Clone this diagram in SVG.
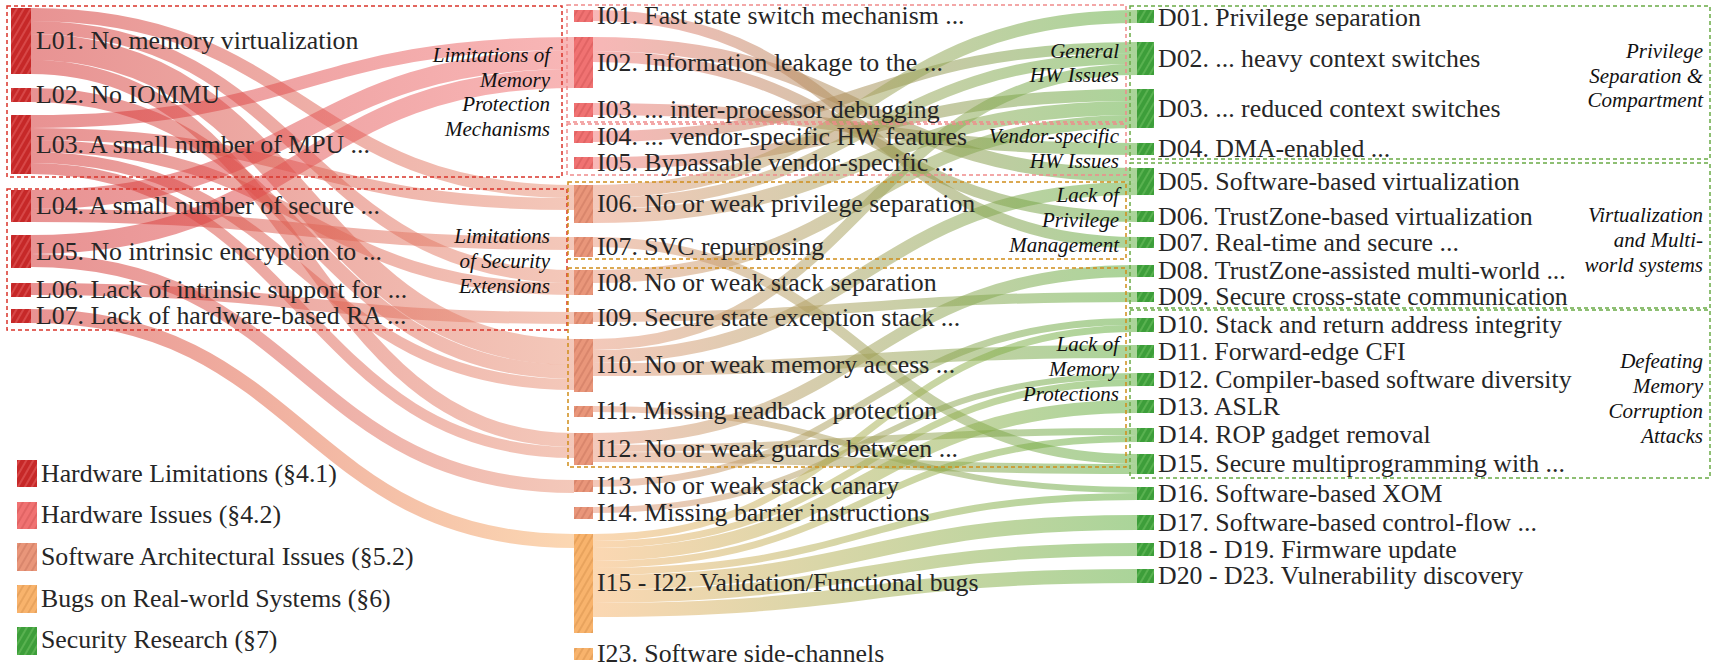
<svg xmlns="http://www.w3.org/2000/svg" width="1713" height="665" viewBox="0 0 1713 665">
  <style>
    .lk { fill: none; stroke-opacity: 0.52; }
    .lbl { font-family: "Liberation Serif", "Times New Roman", serif; font-size: 25.8px; fill: #262626; }
    .grp { font-family: "Liberation Serif", "Times New Roman", serif; font-style: italic; font-size: 21px; fill: #111; text-anchor: end; }
    .box { fill: none; stroke-width: 1.5; stroke-dasharray: 4 3; }
  </style>
  <defs>
    <!-- hatched fills for the node bars -->
    <pattern id="hL" patternUnits="userSpaceOnUse" width="6" height="6" patternTransform="rotate(30)">
      <rect width="6" height="6" fill="#c62828"/><line x1="1" y1="0" x2="1" y2="6" stroke="#e35b5b" stroke-width="1.2"/>
    </pattern>
    <pattern id="hH" patternUnits="userSpaceOnUse" width="6" height="6" patternTransform="rotate(30)">
      <rect width="6" height="6" fill="#f07272"/><line x1="1" y1="0" x2="1" y2="6" stroke="#d85a5a" stroke-width="1.2"/>
    </pattern>
    <pattern id="hS" patternUnits="userSpaceOnUse" width="6" height="6" patternTransform="rotate(30)">
      <rect width="6" height="6" fill="#e9967a"/><line x1="1" y1="0" x2="1" y2="6" stroke="#cf7c62" stroke-width="1.2"/>
    </pattern>
    <pattern id="hB" patternUnits="userSpaceOnUse" width="6" height="6" patternTransform="rotate(30)">
      <rect width="6" height="6" fill="#f8b36c"/><line x1="1" y1="0" x2="1" y2="6" stroke="#de9852" stroke-width="1.2"/>
    </pattern>
    <pattern id="hD" patternUnits="userSpaceOnUse" width="6" height="6" patternTransform="rotate(30)">
      <rect width="6" height="6" fill="#3d9e3a"/><line x1="1" y1="0" x2="1" y2="6" stroke="#6cbf5e" stroke-width="1.2"/>
    </pattern>
    <!-- link colour ramps: limitation -> issue, issue -> defence -->
    <linearGradient id="gLH" gradientUnits="userSpaceOnUse" x1="31" y1="0" x2="574" y2="0">
      <stop offset="0" stop-color="#d32f2f"/><stop offset="1" stop-color="#f27474"/>
    </linearGradient>
    <linearGradient id="gLS" gradientUnits="userSpaceOnUse" x1="31" y1="0" x2="574" y2="0">
      <stop offset="0" stop-color="#d32f2f"/><stop offset="1" stop-color="#e9967a"/>
    </linearGradient>
    <linearGradient id="gLB" gradientUnits="userSpaceOnUse" x1="31" y1="0" x2="574" y2="0">
      <stop offset="0" stop-color="#d32f2f"/><stop offset="1" stop-color="#f8b36c"/>
    </linearGradient>
    <linearGradient id="gIH" gradientUnits="userSpaceOnUse" x1="593" y1="0" x2="1137" y2="0">
      <stop offset="0" stop-color="#f27474"/><stop offset="1" stop-color="#5cad3c"/>
    </linearGradient>
    <linearGradient id="gIS" gradientUnits="userSpaceOnUse" x1="593" y1="0" x2="1137" y2="0">
      <stop offset="0" stop-color="#e9967a"/><stop offset="1" stop-color="#5cad3c"/>
    </linearGradient>
    <linearGradient id="gIB" gradientUnits="userSpaceOnUse" x1="593" y1="0" x2="1137" y2="0">
      <stop offset="0" stop-color="#f8b36c"/><stop offset="1" stop-color="#5cad3c"/>
    </linearGradient>
  </defs>

  <!-- connectors -->
  <g id="links">
    <g id="links-limitations">
      <path class="lk" stroke="url(#gLS)" stroke-width="13" d="M31,14.5 C302.5,14.5 302.5,191.5 574,191.5"/>
      <path class="lk" stroke="url(#gLS)" stroke-width="13" d="M31,27.5 C302.5,27.5 302.5,276.5 574,276.5"/>
      <path class="lk" stroke="url(#gLS)" stroke-width="26" d="M31,47 C302.5,47 302.5,352 574,352"/>
      <path class="lk" stroke="url(#gLS)" stroke-width="14" d="M31,67 C302.5,67 302.5,440 574,440"/>
      <path class="lk" stroke="url(#gLS)" stroke-width="14" d="M31,95 C302.5,95 302.5,372 574,372"/>
      <path class="lk" stroke="url(#gLH)" stroke-width="13" d="M31,121.5 C302.5,121.5 302.5,43.5 574,43.5"/>
      <path class="lk" stroke="url(#gLS)" stroke-width="12" d="M31,134 C302.5,134 302.5,204 574,204"/>
      <path class="lk" stroke="url(#gLS)" stroke-width="12" d="M31,146 C302.5,146 302.5,289 574,289"/>
      <path class="lk" stroke="url(#gLS)" stroke-width="11" d="M31,157.5 C302.5,157.5 302.5,384.5 574,384.5"/>
      <path class="lk" stroke="url(#gLS)" stroke-width="11" d="M31,168.5 C302.5,168.5 302.5,452.5 574,452.5"/>
      <path class="lk" stroke="url(#gLH)" stroke-width="19" d="M31,199.5 C302.5,199.5 302.5,59.5 574,59.5"/>
      <path class="lk" stroke="url(#gLS)" stroke-width="13" d="M31,215.5 C302.5,215.5 302.5,243.5 574,243.5"/>
      <path class="lk" stroke="url(#gLH)" stroke-width="19" d="M31,244.5 C302.5,244.5 302.5,78.5 574,78.5"/>
      <path class="lk" stroke="url(#gLS)" stroke-width="13" d="M31,260.5 C302.5,260.5 302.5,486.5 574,486.5"/>
      <path class="lk" stroke="url(#gLS)" stroke-width="12" d="M31,289 C302.5,289 302.5,318 574,318"/>
      <path class="lk" stroke="url(#gLB)" stroke-width="14" d="M31,316 C302.5,316 302.5,541 574,541"/>
    </g>
    <g id="links-issues">
      <path class="lk" stroke="url(#gIH)" stroke-width="11" d="M593,15.5 C865,15.5 865,242.5 1137,242.5"/>
      <path class="lk" stroke="url(#gIH)" stroke-width="14" d="M593,44 C865,44 865,175 1137,175"/>
      <path class="lk" stroke="url(#gIH)" stroke-width="11" d="M593,56.5 C865,56.5 865,216.5 1137,216.5"/>
      <path class="lk" stroke="url(#gIH)" stroke-width="12" d="M593,109 C865,109 865,149 1137,149"/>
      <path class="lk" stroke="url(#gIH)" stroke-width="11" d="M593,136.5 C865,136.5 865,47.5 1137,47.5"/>
      <path class="lk" stroke="url(#gIH)" stroke-width="12" d="M593,163 C865,163 865,95 1137,95"/>
      <path class="lk" stroke="url(#gIS)" stroke-width="13" d="M593,191.5 C865,191.5 865,16.5 1137,16.5"/>
      <path class="lk" stroke="url(#gIS)" stroke-width="11" d="M593,203.5 C865,203.5 865,58.5 1137,58.5"/>
      <path class="lk" stroke="url(#gIS)" stroke-width="14" d="M593,216 C865,216 865,108 1137,108"/>
      <path class="lk" stroke="url(#gIS)" stroke-width="10" d="M593,242 C865,242 865,459 1137,459"/>
      <path class="lk" stroke="url(#gIS)" stroke-width="13" d="M593,276.5 C865,276.5 865,121.5 1137,121.5"/>
      <path class="lk" stroke="url(#gIS)" stroke-width="10" d="M593,317 C865,317 865,297 1137,297"/>
      <path class="lk" stroke="url(#gIS)" stroke-width="11" d="M593,344.5 C865,344.5 865,69.5 1137,69.5"/>
      <path class="lk" stroke="url(#gIS)" stroke-width="13" d="M593,356.5 C865,356.5 865,188.5 1137,188.5"/>
      <path class="lk" stroke="url(#gIS)" stroke-width="13" d="M593,369.5 C865,369.5 865,351.5 1137,351.5"/>
      <path class="lk" stroke="url(#gIS)" stroke-width="6" d="M593,409 C865,409 865,490 1137,490"/>
      <path class="lk" stroke="url(#gIS)" stroke-width="12" d="M593,439 C865,439 865,271 1137,271"/>
      <path class="lk" stroke="url(#gIS)" stroke-width="7" d="M593,448.5 C865,448.5 865,431.5 1137,431.5"/>
      <path class="lk" stroke="url(#gIS)" stroke-width="10" d="M593,457 C865,457 865,469 1137,469"/>
      <path class="lk" stroke="url(#gIS)" stroke-width="7" d="M593,483.5 C865,483.5 865,321.5 1137,321.5"/>
      <path class="lk" stroke="url(#gIS)" stroke-width="6" d="M593,510 C865,510 865,376 1137,376"/>
      <path class="lk" stroke="url(#gIB)" stroke-width="7" d="M593,537.5 C865,537.5 865,328.5 1137,328.5"/>
      <path class="lk" stroke="url(#gIB)" stroke-width="7" d="M593,544.5 C865,544.5 865,382.5 1137,382.5"/>
      <path class="lk" stroke="url(#gIB)" stroke-width="13" d="M593,554.5 C865,554.5 865,406.5 1137,406.5"/>
      <path class="lk" stroke="url(#gIB)" stroke-width="7" d="M593,564.5 C865,564.5 865,438.5 1137,438.5"/>
      <path class="lk" stroke="url(#gIB)" stroke-width="7" d="M593,571.5 C865,571.5 865,496.5 1137,496.5"/>
      <path class="lk" stroke="url(#gIB)" stroke-width="15" d="M593,582.5 C865,582.5 865,522.5 1137,522.5"/>
      <path class="lk" stroke="url(#gIB)" stroke-width="13" d="M593,596.5 C865,596.5 865,549.5 1137,549.5"/>
      <path class="lk" stroke="url(#gIB)" stroke-width="14" d="M593,610 C865,610 865,576 1137,576"/>
    </g>
  </g>

  <!-- category frames -->
  <g id="groups">
    <g id="grp-mem-limits">
      <rect class="box" stroke="#d9342b" x="7" y="6" width="555" height="171"/>
      <text class="grp" x="550" y="62">Limitations of</text>
      <text class="grp" x="550" y="86.5">Memory</text>
      <text class="grp" x="550" y="111">Protection</text>
      <text class="grp" x="550" y="135.5">Mechanisms</text>
    </g>
    <g id="grp-sec-ext">
      <rect class="box" stroke="#d9342b" x="7" y="189" width="560" height="141"/>
      <text class="grp" x="550" y="243">Limitations</text>
      <text class="grp" x="550" y="268">of Security</text>
      <text class="grp" x="550" y="293">Extensions</text>
    </g>
    <g id="grp-general-hw">
      <rect class="box" stroke="#f08a8a" x="567" y="5" width="559" height="117"/>
      <text class="grp" x="1119" y="58">General</text>
      <text class="grp" x="1119" y="82">HW Issues</text>
    </g>
    <g id="grp-vendor-hw">
      <rect class="box" stroke="#f08a8a" x="567" y="124" width="559" height="51"/>
      <text class="grp" x="1119" y="143">Vendor-specific</text>
      <text class="grp" x="1119" y="168">HW Issues</text>
    </g>
    <g id="grp-privilege">
      <rect class="box" stroke="#cf8d1a" x="568" y="182" width="558" height="77"/>
      <text class="grp" x="1119" y="202">Lack of</text>
      <text class="grp" x="1119" y="227">Privilege</text>
      <text class="grp" x="1119" y="252">Management</text>
    </g>
    <g id="grp-memprot">
      <rect class="box" stroke="#cf8d1a" x="568" y="268" width="558" height="199"/>
      <text class="grp" x="1119" y="351">Lack of</text>
      <text class="grp" x="1119" y="376">Memory</text>
      <text class="grp" x="1119" y="401">Protections</text>
    </g>
    <g id="grp-compartment">
      <rect class="box" stroke="#6aaa45" x="1130" y="6" width="580" height="153"/>
      <text class="grp" x="1703" y="58">Privilege</text>
      <text class="grp" x="1703" y="82.5">Separation &amp;</text>
      <text class="grp" x="1703" y="107">Compartment</text>
    </g>
    <g id="grp-virtualization">
      <rect class="box" stroke="#6aaa45" x="1130" y="163" width="580" height="145"/>
      <text class="grp" x="1703" y="222">Virtualization</text>
      <text class="grp" x="1703" y="247">and Multi-</text>
      <text class="grp" x="1703" y="272">world systems</text>
    </g>
    <g id="grp-memcorruption">
      <rect class="box" stroke="#6aaa45" x="1130" y="310" width="580" height="168"/>
      <text class="grp" x="1703" y="368">Defeating</text>
      <text class="grp" x="1703" y="393">Memory</text>
      <text class="grp" x="1703" y="418">Corruption</text>
      <text class="grp" x="1703" y="443">Attacks</text>
    </g>
  </g>

  <!-- hardware limitations -->
  <g id="L01"><rect x="11" y="8" width="20" height="66" fill="url(#hL)"/><text class="lbl" x="36" y="49">L01. No memory virtualization</text></g>
  <g id="L02"><rect x="11" y="88" width="20" height="14" fill="url(#hL)"/><text class="lbl" x="36" y="103">L02. No IOMMU</text></g>
  <g id="L03"><rect x="11" y="115" width="20" height="59" fill="url(#hL)"/><text class="lbl" x="36" y="153">L03. A small number of MPU ...</text></g>
  <g id="L04"><rect x="11" y="190" width="20" height="32" fill="url(#hL)"/><text class="lbl" x="36" y="214">L04. A small number of secure ...</text></g>
  <g id="L05"><rect x="11" y="235" width="20" height="33" fill="url(#hL)"/><text class="lbl" x="36" y="260">L05. No intrinsic encryption to ...</text></g>
  <g id="L06"><rect x="11" y="283" width="20" height="14" fill="url(#hL)"/><text class="lbl" x="36" y="298">L06. Lack of intrinsic support for ...</text></g>
  <g id="L07"><rect x="11" y="309" width="20" height="14" fill="url(#hL)"/><text class="lbl" x="36" y="324">L07. Lack of hardware-based RA ...</text></g>

  <!-- issues -->
  <g id="I01"><rect x="574" y="10" width="19" height="12" fill="url(#hH)"/><text class="lbl" x="597" y="24">I01. Fast state switch mechanism ...</text></g>
  <g id="I02"><rect x="574" y="37" width="19" height="51" fill="url(#hH)"/><text class="lbl" x="597" y="70.5">I02. Information leakage to the ...</text></g>
  <g id="I03"><rect x="574" y="103" width="19" height="14" fill="url(#hH)"/><text class="lbl" x="597" y="118">I03. ... inter-processor debugging</text></g>
  <g id="I04"><rect x="574" y="131" width="19" height="12" fill="url(#hH)"/><text class="lbl" x="597" y="145">I04. ... vendor-specific HW features</text></g>
  <g id="I05"><rect x="574" y="157" width="19" height="12" fill="url(#hH)"/><text class="lbl" x="597" y="171">I05. Bypassable vendor-specific ...</text></g>
  <g id="I06"><rect x="574" y="185" width="19" height="38" fill="url(#hS)"/><text class="lbl" x="597" y="212">I06. No or weak privilege separation</text></g>
  <g id="I07"><rect x="574" y="237" width="19" height="20" fill="url(#hS)"/><text class="lbl" x="597" y="255">I07. SVC repurposing</text></g>
  <g id="I08"><rect x="574" y="270" width="19" height="25" fill="url(#hS)"/><text class="lbl" x="597" y="291">I08. No or weak stack separation</text></g>
  <g id="I09"><rect x="574" y="312" width="19" height="12" fill="url(#hS)"/><text class="lbl" x="597" y="326">I09. Secure state exception stack ...</text></g>
  <g id="I10"><rect x="574" y="339" width="19" height="53" fill="url(#hS)"/><text class="lbl" x="597" y="373">I10. No or weak memory access ...</text></g>
  <g id="I11"><rect x="574" y="406" width="19" height="11" fill="url(#hS)"/><text class="lbl" x="597" y="419">I11. Missing readback protection</text></g>
  <g id="I12"><rect x="574" y="433" width="19" height="32" fill="url(#hS)"/><text class="lbl" x="597" y="457">I12. No or weak guards between ...</text></g>
  <g id="I13"><rect x="574" y="480" width="19" height="12" fill="url(#hS)"/><text class="lbl" x="597" y="494">I13. No or weak stack canary</text></g>
  <g id="I14"><rect x="574" y="507" width="19" height="12" fill="url(#hS)"/><text class="lbl" x="597" y="521">I14. Missing barrier instructions</text></g>
  <g id="I15-I22"><rect x="574" y="534" width="19" height="99" fill="url(#hB)"/><text class="lbl" x="597" y="591">I15 - I22. Validation/Functional bugs</text></g>
  <g id="I23"><rect x="574" y="648" width="19" height="12" fill="url(#hB)"/><text class="lbl" x="597" y="662">I23. Software side-channels</text></g>

  <!-- defences from security research -->
  <g id="D01"><rect x="1137" y="10" width="17" height="13" fill="url(#hD)"/><text class="lbl" x="1158" y="25.5">D01. Privilege separation</text></g>
  <g id="D02"><rect x="1137" y="42" width="17" height="33" fill="url(#hD)"/><text class="lbl" x="1158" y="66.5">D02. ... heavy context switches</text></g>
  <g id="D03"><rect x="1137" y="89" width="17" height="39" fill="url(#hD)"/><text class="lbl" x="1158" y="116.5">D03. ... reduced context switches</text></g>
  <g id="D04"><rect x="1137" y="143" width="17" height="12" fill="url(#hD)"/><text class="lbl" x="1158" y="157">D04. DMA-enabled ...</text></g>
  <g id="D05"><rect x="1137" y="168" width="17" height="27" fill="url(#hD)"/><text class="lbl" x="1158" y="189.5">D05. Software-based virtualization</text></g>
  <g id="D06"><rect x="1137" y="211" width="17" height="11" fill="url(#hD)"/><text class="lbl" x="1158" y="224.5">D06. TrustZone-based virtualization</text></g>
  <g id="D07"><rect x="1137" y="237" width="17" height="11" fill="url(#hD)"/><text class="lbl" x="1158" y="250.5">D07. Real-time and secure ...</text></g>
  <g id="D08"><rect x="1137" y="265" width="17" height="12" fill="url(#hD)"/><text class="lbl" x="1158" y="279">D08. TrustZone-assisted multi-world ...</text></g>
  <g id="D09"><rect x="1137" y="292" width="17" height="10" fill="url(#hD)"/><text class="lbl" x="1158" y="305">D09. Secure cross-state communication</text></g>
  <g id="D10"><rect x="1137" y="318" width="17" height="14" fill="url(#hD)"/><text class="lbl" x="1158" y="333">D10. Stack and return address integrity</text></g>
  <g id="D11"><rect x="1137" y="345" width="17" height="13" fill="url(#hD)"/><text class="lbl" x="1158" y="359.5">D11. Forward-edge CFI</text></g>
  <g id="D12"><rect x="1137" y="373" width="17" height="13" fill="url(#hD)"/><text class="lbl" x="1158" y="387.5">D12. Compiler-based software diversity</text></g>
  <g id="D13"><rect x="1137" y="400" width="17" height="13" fill="url(#hD)"/><text class="lbl" x="1158" y="414.5">D13. ASLR</text></g>
  <g id="D14"><rect x="1137" y="428" width="17" height="14" fill="url(#hD)"/><text class="lbl" x="1158" y="443">D14. ROP gadget removal</text></g>
  <g id="D15"><rect x="1137" y="454" width="17" height="20" fill="url(#hD)"/><text class="lbl" x="1158" y="472">D15. Secure multiprogramming with ...</text></g>
  <g id="D16"><rect x="1137" y="487" width="17" height="13" fill="url(#hD)"/><text class="lbl" x="1158" y="501.5">D16. Software-based XOM</text></g>
  <g id="D17"><rect x="1137" y="515" width="17" height="15" fill="url(#hD)"/><text class="lbl" x="1158" y="530.5">D17. Software-based control-flow ...</text></g>
  <g id="D18-D19"><rect x="1137" y="543" width="17" height="13" fill="url(#hD)"/><text class="lbl" x="1158" y="557.5">D18 - D19. Firmware update</text></g>
  <g id="D20-D23"><rect x="1137" y="569" width="17" height="14" fill="url(#hD)"/><text class="lbl" x="1158" y="584">D20 - D23. Vulnerability discovery</text></g>

  <!-- legend -->
  <g id="legend">
    <rect x="17" y="460" width="20" height="27" fill="url(#hL)"/><text class="lbl" x="41" y="482">Hardware Limitations (§4.1)</text>
    <rect x="17" y="502" width="20" height="27" fill="url(#hH)"/><text class="lbl" x="41" y="523">Hardware Issues (§4.2)</text>
    <rect x="17" y="543" width="20" height="28" fill="url(#hS)"/><text class="lbl" x="41" y="565">Software Architectural Issues (§5.2)</text>
    <rect x="17" y="585" width="20" height="28" fill="url(#hB)"/><text class="lbl" x="41" y="607">Bugs on Real-world Systems (§6)</text>
    <rect x="17" y="627" width="20" height="28" fill="url(#hD)"/><text class="lbl" x="41" y="648">Security Research (§7)</text>
  </g>
</svg>
